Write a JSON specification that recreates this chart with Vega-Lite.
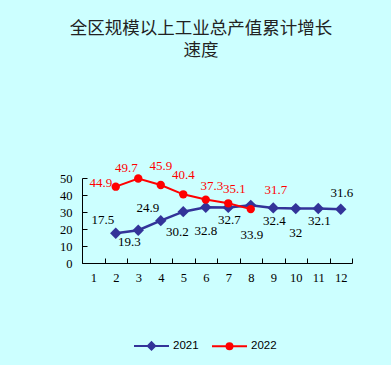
{
  "$schema": "https://vega.github.io/schema/vega-lite/v6.json",
  "autosize": {"type": "none"},
  "width": 270,
  "height": 85,
  "padding": {"left": 82, "top": 178, "right": 39, "bottom": 102},
  "background": "#CCFFFF",
  "config": {"view": {"stroke": null}},
  "title": {
    "text": ["全区规模以上工业总产值累计增长", "速度"],
    "font": "Noto Sans CJK SC",
    "fontSize": 17.5,
    "fontWeight": "normal",
    "color": "#222222",
    "lineHeight": 22,
    "anchor": "middle",
    "frame": "group",
    "dx": -16,
    "offset": 100
  },
  "data": {
    "values": [
      {"month": 2, "year": "2021", "value": 17.5},
      {"month": 3, "year": "2021", "value": 19.3},
      {"month": 4, "year": "2021", "value": 24.9},
      {"month": 5, "year": "2021", "value": 30.2},
      {"month": 6, "year": "2021", "value": 32.8},
      {"month": 7, "year": "2021", "value": 32.7},
      {"month": 8, "year": "2021", "value": 33.9},
      {"month": 9, "year": "2021", "value": 32.4},
      {"month": 10, "year": "2021", "value": 32},
      {"month": 11, "year": "2021", "value": 32.1},
      {"month": 12, "year": "2021", "value": 31.6},
      {"month": 2, "year": "2022", "value": 44.9},
      {"month": 3, "year": "2022", "value": 49.7},
      {"month": 4, "year": "2022", "value": 45.9},
      {"month": 5, "year": "2022", "value": 40.4},
      {"month": 6, "year": "2022", "value": 37.3},
      {"month": 7, "year": "2022", "value": 35.1},
      {"month": 8, "year": "2022", "value": 31.7}
    ]
  },
  "encoding": {
    "x": {
      "field": "month", "type": "quantitative",
      "scale": {"domain": [0.5, 12.5], "nice": false, "zero": false},
      "axis": {
        "title": null,
        "grid": false,
        "values": [0.5, 1, 1.5, 2, 2.5, 3, 3.5, 4, 4.5, 5, 5.5, 6, 6.5, 7, 7.5, 8, 8.5, 9, 9.5, 10, 10.5, 11, 11.5, 12, 12.5],
        "labelExpr": "datum.value % 1 == 0 ? format(datum.value, 'd') : ''",
        "tickOpacity": {"condition": {"test": "datum.value % 1 == 0", "value": 0}, "value": 1},
        "tickSize": -5,
        "labelPadding": 13,
        "labelFont": "Liberation Serif",
        "labelFontSize": 12.5,
        "labelColor": "#000000",
        "labelOverlap": false,
        "labelFlush": false,
        "labelBound": false,
        "domainColor": "#000000",
        "tickColor": "#000000"
      }
    },
    "y": {
      "field": "value", "type": "quantitative",
      "scale": {"domain": [0, 50], "nice": false},
      "axis": {
        "title": null,
        "grid": false,
        "values": [0, 10, 20, 30, 40, 50],
        "tickSize": -5,
        "labelPadding": 15,
        "labelFont": "Liberation Serif",
        "labelFontSize": 12.5,
        "labelColor": "#000000",
        "labelOverlap": false,
        "labelFlush": false,
        "domainColor": "#000000",
        "tickColor": "#000000"
      }
    }
  },
  "layer": [
    {
      "transform": [{"filter": "datum.year == '2021'"}],
      "mark": {"type": "line", "color": "#333399", "strokeWidth": 2.5}
    },
    {
      "transform": [{"filter": "datum.year == '2021'"}],
      "mark": {"type": "point", "shape": "diamond", "filled": true, "opacity": 1, "color": "#333399", "size": 130}
    },
    {
      "transform": [{"filter": "datum.year == '2022'"}],
      "mark": {"type": "line", "color": "#FF0000", "strokeWidth": 2}
    },
    {
      "transform": [{"filter": "datum.year == '2022'"}],
      "mark": {"type": "point", "shape": "circle", "filled": true, "opacity": 1, "color": "#FF0000", "size": 70}
    },
    {
      "transform": [{"filter": "datum.year == '2021' && (datum.month == 2 || datum.month == 4)"}],
      "mark": {"type": "text", "font": "Liberation Serif", "fontSize": 13, "color": "#000000", "dx": -13, "dy": -13},
      "encoding": {"text": {"field": "value"}}
    },
    {
      "transform": [{"filter": "datum.year == '2021' && datum.month == 3"}],
      "mark": {"type": "text", "font": "Liberation Serif", "fontSize": 13, "color": "#000000", "dx": -9, "dy": 12},
      "encoding": {"text": {"field": "value"}}
    },
    {
      "transform": [{"filter": "datum.year == '2021' && datum.month == 5"}],
      "mark": {"type": "text", "font": "Liberation Serif", "fontSize": 13, "color": "#000000", "dx": -6, "dy": 20},
      "encoding": {"text": {"field": "value"}}
    },
    {
      "transform": [{"filter": "datum.year == '2021' && (datum.month == 6 || datum.month == 10)"}],
      "mark": {"type": "text", "font": "Liberation Serif", "fontSize": 13, "color": "#000000", "dx": 0, "dy": 24},
      "encoding": {"text": {"field": "value"}}
    },
    {
      "transform": [{"filter": "datum.year == '2021' && (datum.month == 7 || datum.month == 9 || datum.month == 11)"}],
      "mark": {"type": "text", "font": "Liberation Serif", "fontSize": 13, "color": "#000000", "dx": 1, "dy": 13},
      "encoding": {"text": {"field": "value"}}
    },
    {
      "transform": [{"filter": "datum.year == '2021' && datum.month == 8"}],
      "mark": {"type": "text", "font": "Liberation Serif", "fontSize": 13, "color": "#000000", "dx": 1, "dy": 30},
      "encoding": {"text": {"field": "value"}}
    },
    {
      "transform": [{"filter": "datum.year == '2021' && datum.month == 12"}],
      "mark": {"type": "text", "font": "Liberation Serif", "fontSize": 13, "color": "#000000", "dx": 1, "dy": -16},
      "encoding": {"text": {"field": "value"}}
    },
    {
      "transform": [{"filter": "datum.year == '2022' && datum.month == 2"}],
      "mark": {"type": "text", "font": "Liberation Serif", "fontSize": 13, "color": "#FF0000", "dx": -15, "dy": -4},
      "encoding": {"text": {"field": "value"}}
    },
    {
      "transform": [{"filter": "datum.year == '2022' && datum.month == 3"}],
      "mark": {"type": "text", "font": "Liberation Serif", "fontSize": 13, "color": "#FF0000", "dx": -12, "dy": -11},
      "encoding": {"text": {"field": "value"}}
    },
    {
      "transform": [{"filter": "datum.year == '2022' && (datum.month == 4 || datum.month == 5)"}],
      "mark": {"type": "text", "font": "Liberation Serif", "fontSize": 13, "color": "#FF0000", "dx": 0, "dy": -19},
      "encoding": {"text": {"field": "value"}}
    },
    {
      "transform": [{"filter": "datum.year == '2022' && (datum.month == 6 || datum.month == 7)"}],
      "mark": {"type": "text", "font": "Liberation Serif", "fontSize": 13, "color": "#FF0000", "dx": 6, "dy": -14},
      "encoding": {"text": {"field": "value"}}
    },
    {
      "transform": [{"filter": "datum.year == '2022' && datum.month == 8"}],
      "mark": {"type": "text", "font": "Liberation Serif", "fontSize": 13, "color": "#FF0000", "dx": 25, "dy": -19},
      "encoding": {"text": {"field": "value"}}
    },
    {
      "transform": [{"filter": "false"}],
      "mark": {"type": "point", "filled": true, "opacity": 1, "strokeWidth": 2},
      "encoding": {
        "fill": {"field": "year", "type": "nominal", "scale": {"domain": ["2021", "2022"], "range": ["#333399", "#FF0000"]},
          "legend": {
            "orient": "none", "legendX": 51, "legendY": 149, "direction": "horizontal",
            "title": null, "symbolSize": 1225, "symbolStrokeWidth": 2, "symbolOpacity": 1,
            "labelFont": "Liberation Sans", "labelFontSize": 11.5, "labelColor": "#000000",
            "labelOffset": 3, "columnPadding": 9
          }},
        "stroke": {"field": "year", "type": "nominal", "scale": {"domain": ["2021", "2022"], "range": ["#333399", "#FF0000"]}},
        "shape": {"field": "year", "type": "nominal",
          "scale": {"domain": ["2021", "2022"], "range": ["M-1,0H1M0,-0.21L0.21,0L0,0.21L-0.21,0Z", "M-1,0H1M0.17,0A0.17,0.17,0,1,1,-0.17,0A0.17,0.17,0,1,1,0.17,0Z"]}}
      }
    }
  ]
}
